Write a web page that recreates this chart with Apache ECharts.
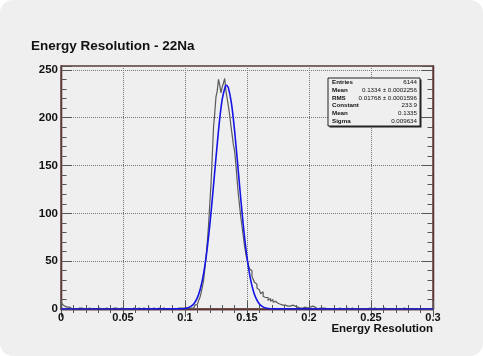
<!DOCTYPE html>
<html>
<head>
<meta charset="utf-8">
<script src="https://cdn.jsdelivr.net/npm/echarts@6/dist/echarts.min.js"></script>
<style>
html,body{margin:0;padding:0;background:#ffffff;}
#chart{width:483px;height:356px;background:#efefef;border-radius:13px;overflow:hidden;}
</style>
</head>
<body>
<div id="chart"></div>
<script>
// ---- Data ----
const binStart = 0;
const binWidth = 0.001;
const histCounts = [
  9,5,3,4,2,1,2,1,0,1,
  0,1,0,0,1,0,1,0,0,1,
  0,0,1,0,0,1,0,1,0,0,
  1,2,0,1,0,0,1,0,0,1,
  0,0,1,0,1,0,0,0,1,0,
  0,1,0,0,0,1,0,0,1,0,
  0,0,1,0,0,0,1,0,0,0,
  1,0,0,0,1,0,0,0,1,0,
  0,0,1,0,0,1,0,0,0,1,
  0,1,0,0,1,0,1,0,1,0,
  1,0,1,1,1,2,1,3,4,5,
  7,9,12,17,23,30,42,55,70,88,
  110,131,160,190,205,222,228,240,234,226,
  232,236,241,228,220,212,203,192,182,172,
  165,152,135,120,108,96,86,76,66,58,
  52,47,42,40,34,31,28,26,22,20,
  19,16,18,13,12,10,12,9,11,8,
  10,7,8,9,6,7,5,6,4,5,
  4,5,3,4,3,2,4,2,3,1,
  2,3,1,2,1,1,2,0,1,1,
  2,1,3,1,2,1,0,2,1,1,
  1,0,1,2,0,1,0,1,0,1,
  0,1,0,0,1,0,0,1,0,0,
  1,0,0,0,1,0,0,0,0,1,
  0,0,0,1,0,0,0,0,1,0,
  0,0,1,0,0,0,0,0,0,0,
  1,0,0,0,0,0,0,1,0,0,
  0,0,0,0,0,0,1,0,0,0,
  0,0,0,0,0,0,0,0,0,0,
  0,1,0,0,0,0,0,0,0,0
];
const fitX = [0,0.095,0.0975,0.1,0.1025,0.105,0.1075,0.11,0.1125,0.115,0.1175,0.12,0.1225,0.125,0.1275,0.13,0.1325,0.1335,0.135,0.1375,0.14,0.1425,0.145,0.1475,0.15,0.1525,0.155,0.1575,0.16,0.1625,0.165,0.1675,0.17,0.1725,0.3];
const fitY = [0,0.1,0.2,0.6,1.3,2.9,6.1,11.9,21.7,37.0,58.9,87.6,121.9,158.5,192.7,219.0,232.6,233.9,231.1,214.6,186.3,151.2,114.7,81.3,53.9,33.4,19.4,10.5,5.3,2.5,1.1,0.5,0.2,0.1,0];
const xTicks = [0,0.05,0.1,0.15,0.2,0.25,0.3];
const yTicks = [0,50,100,150,200,250];
const statsLabels = ['Entries','Mean','RMS','Constant','Mean','Sigma'];
const statsValues = ['6144','0.1334 \u00b1 0.0002256','0.01768 \u00b1 0.0001596','233.9','0.1335','0.009634'];
const titleText = 'Energy Resolution - 22Na';
const xTitle = 'Energy Resolution';

// ---- Build ----
const histData = [[binStart, 0]];
histCounts.forEach((c, i) => histData.push([binStart + i * binWidth, c]));
histData.push([binStart + histCounts.length * binWidth, histCounts[histCounts.length - 1]]);
const fitData = fitX.map((x, i) => [x, fitY[i]]);

const frameColor = '#5e3434';
const tickColor = '#555';
const font = 'Liberation Sans, Arial, sans-serif';
const xMin = xTicks[0], xMax = xTicks[xTicks.length - 1];
const xInt = xTicks[1] - xTicks[0];
const yMin = 0, yMax = 254, yInt = yTicks[1] - yTicks[0];

const chart = echarts.init(document.getElementById('chart'), null, {renderer: 'canvas'});

const gLeft = 61, gTop = 66, gRight = 433, gBottom = 309;
const boxX = 328, boxY = 78, boxW = 92, boxH = 48;
const statsGraphics = [
  {type: 'rect', shape: {x: boxX + 1.5, y: boxY + 1.5, width: boxW, height: boxH}, style: {fill: '#222'}, z: 100},
  {type: 'rect', shape: {x: boxX, y: boxY, width: boxW, height: boxH}, style: {fill: '#efefef', stroke: '#222', lineWidth: 1}, z: 101}
];
statsLabels.forEach((lab, i) => {
  const yy = boxY + 4.6 + i * 7.7;
  statsGraphics.push({type: 'text', x: boxX + 4, y: yy, z: 102,
    style: {text: lab, fontSize: 6.2, fontFamily: font, fontWeight: 'bold', fill: '#111', textVerticalAlign: 'middle', textAlign: 'left'}});
  statsGraphics.push({type: 'text', x: boxX + boxW - 3, y: yy, z: 102,
    style: {text: statsValues[i], fontSize: 6.2, fontFamily: font, fill: '#111', textVerticalAlign: 'middle', textAlign: 'right'}});
});

const xAxisBase = {type: 'value', min: xMin, max: xMax, interval: xInt, axisLine: {show: true, lineStyle: {color: frameColor, width: 1.3}}};
const yAxisCommon = {type: 'value', min: yMin, max: yMax, axisLine: {show: true, lineStyle: {color: frameColor, width: 1.3}}};

chart.setOption({
  animation: false,
  backgroundColor: 'transparent',
  title: [
    {text: titleText, left: 31, top: 39, padding: 0,
      textStyle: {fontFamily: font, fontWeight: 'bold', fontSize: 13.5, color: '#111'}},
    {text: xTitle, right: 50, top: 323, padding: 0,
      textStyle: {fontFamily: font, fontWeight: 'bold', fontSize: 11.5, color: '#111'}}
  ],
  grid: {left: gLeft, top: gTop, width: gRight - gLeft, height: gBottom - gTop, show: true, borderColor: frameColor, borderWidth: 1.3, backgroundColor: 'transparent', containLabel: false},
  xAxis: [
    Object.assign({}, xAxisBase, {position: 'bottom',
      axisTick: {show: true, inside: true, length: 8, lineStyle: {color: tickColor}},
      minorTick: {show: true, splitNumber: 5, length: 4, lineStyle: {color: tickColor}},
      axisLabel: {show: true, margin: 3, fontFamily: font, fontWeight: 'bold', fontSize: 11, color: '#111',
        formatter: v => String(Math.round(v * 100) / 100)},
      splitLine: {show: true, lineStyle: {type: 'dotted', color: '#777', width: 1}}}),
    Object.assign({}, xAxisBase, {position: 'top',
      axisTick: {show: true, inside: true, length: 8, lineStyle: {color: tickColor}},
      minorTick: {show: true, splitNumber: 5, length: 4, lineStyle: {color: tickColor}},
      axisLabel: {show: false}, splitLine: {show: false}})
  ],
  yAxis: [
    Object.assign({}, yAxisCommon, {position: 'left', interval: yInt,
      axisTick: {show: true, inside: true, length: 11, lineStyle: {color: tickColor}},
      axisLabel: {show: true, margin: 3, fontFamily: font, fontWeight: 'bold', fontSize: 11.5, color: '#111',
        formatter: v => (v % 50 === 0 ? String(v) : '')},
      splitLine: {show: true, lineStyle: {type: 'dotted', color: '#777', width: 1}}}),
    Object.assign({}, yAxisCommon, {position: 'left', interval: 10,
      axisTick: {show: true, inside: true, length: 5.5, lineStyle: {color: tickColor}},
      axisLabel: {show: false}, splitLine: {show: false}}),
    Object.assign({}, yAxisCommon, {position: 'right', interval: yInt,
      axisTick: {show: true, inside: true, length: 11, lineStyle: {color: tickColor}},
      axisLabel: {show: false}, splitLine: {show: false}}),
    Object.assign({}, yAxisCommon, {position: 'right', interval: 10,
      axisTick: {show: true, inside: true, length: 5.5, lineStyle: {color: tickColor}},
      axisLabel: {show: false}, splitLine: {show: false}})
  ],
  graphic: statsGraphics,
  series: [
    {type: 'line', name: 'hist', data: histData, step: 'end', showSymbol: false, symbol: 'none',
      xAxisIndex: 0, yAxisIndex: 0, clip: true,
      lineStyle: {color: '#5a5a5a', width: 1.2}, z: 3},
    {type: 'line', name: 'fit', data: fitData, showSymbol: false, symbol: 'none', smooth: 0.2,
      xAxisIndex: 0, yAxisIndex: 0, clip: true,
      lineStyle: {color: '#1414e6', width: 1.6}, z: 4}
  ]
});
</script>
</body>
</html>
